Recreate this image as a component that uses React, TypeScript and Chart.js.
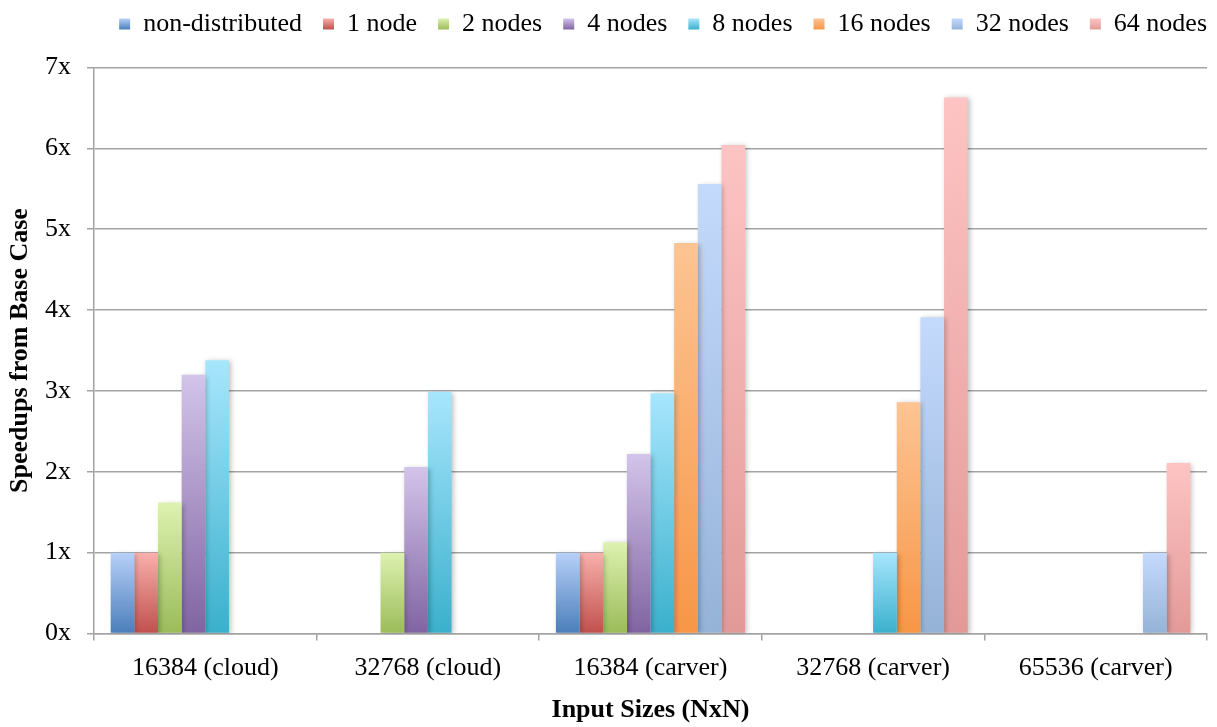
import React, { useEffect, useRef } from 'react';
import { Chart, registerables } from 'chart.js';

Chart.register(...registerables);

const categories = ['16384 (cloud)', '32768 (cloud)', '16384 (carver)', '32768 (carver)', '65536 (carver)'];
const seriesNames = ['non-distributed', '1 node', '2 nodes', '4 nodes', '8 nodes', '16 nodes', '32 nodes', '64 nodes'];

const nonDistributed = [1, null, 1, null, null];
const node1 = [1, null, 1, null, null];
const nodes2 = [1.62, 1, 1.13, null, null];
const nodes4 = [3.2, 2.06, 2.22, null, null];
const nodes8 = [3.38, 2.99, 2.97, 1, null];
const nodes16 = [null, null, 4.83, 2.86, null];
const nodes32 = [null, null, 5.56, 3.91, 1];
const nodes64 = [null, null, 6.04, 6.63, 2.11];

const seriesValues = [nonDistributed, node1, nodes2, nodes4, nodes8, nodes16, nodes32, nodes64];

const topColors = ['#b7d0f8', '#f9b0ac', '#ddf2b0', '#d3c4ea', '#a7e6fd', '#fdc493', '#c4dafd', '#fdc4c3'];
const bottomColors = ['#4a7ebb', '#c0504d', '#9bbb59', '#8064a2', '#3ab0cc', '#f79646', '#95b3d7', '#e29a98'];
const legendColors = ['#7fa6dc', '#dd807d', '#bcd785', '#a994c6', '#70cbe4', '#faad6c', '#adc7ea', '#efafad'];

const yMin = 0;
const yMax = 7;
const yStep = 1;
const yTitle = 'Speedups from Base Case';
const xTitle = 'Input Sizes (NxN)';

const FONT = "'Liberation Serif', 'Times New Roman', Times, serif";
const GRID = '#a3a3a3';

function barFill(i: number) {
  return (ctx: any) => {
    if (ctx.type !== 'data') return legendColors[i];
    const chart = ctx.chart;
    const ys = chart.scales?.y;
    const v = ctx.raw;
    if (!ys || v == null) return bottomColors[i];
    const yTop = ys.getPixelForValue(v);
    const yBase = ys.getPixelForValue(0);
    if (!isFinite(yTop) || !isFinite(yBase) || yTop === yBase) return bottomColors[i];
    const g = chart.ctx.createLinearGradient(0, yTop, 0, yBase);
    g.addColorStop(0, topColors[i]);
    g.addColorStop(1, bottomColors[i]);
    return g;
  };
}

const shadowPlugin = {
  id: 'barShadow',
  beforeDatasetsDraw(chart: any) {
    const c = chart.ctx;
    c.save();
    c.shadowColor = 'rgba(0,0,0,0.25)';
    c.shadowBlur = 5;
    c.shadowOffsetX = 2;
    c.shadowOffsetY = 1;
  },
  afterDatasetsDraw(chart: any) {
    chart.ctx.restore();
  },
};

export default function App() {
  const ref = useRef<HTMLCanvasElement>(null);

  useEffect(() => {
    if (!ref.current) return;
    const chart = new Chart(ref.current, {
      type: 'bar',
      data: {
        labels: categories,
        datasets: seriesNames.map((name, i) => ({
          label: name,
          data: seriesValues[i],
          backgroundColor: barFill(i),
          borderWidth: 0,
          categoryPercentage: 0.85,
          barPercentage: 1,
        })),
      },
      plugins: [shadowPlugin],
      options: {
        animation: false,
        responsive: true,
        maintainAspectRatio: false,
        layout: { padding: { top: -10, left: 0, right: -11, bottom: 0 } },
        font: { family: FONT },
        plugins: {
          tooltip: { enabled: false },
          legend: {
            position: 'top',
            align: 'end',
            labels: {
              font: { family: FONT, size: 26 },
              color: '#000',
              boxWidth: 11,
              boxHeight: 11,
              padding: 21,
              generateLabels(chart: any) {
                const items = (Chart.defaults.plugins.legend.labels as any).generateLabels(chart);
                items.forEach((it: any, i: number) => {
                  const g = chart.ctx.createLinearGradient(0, 18.5, 0, 29.5);
                  g.addColorStop(0, topColors[i]);
                  g.addColorStop(1, bottomColors[i]);
                  it.fillStyle = g;
                  it.strokeStyle = 'rgba(0,0,0,0)';
                  it.lineWidth = 0;
                });
                return items;
              },
            },
          },
          subtitle: {
            display: true,
            text: '',
            weight: 500,
            padding: 0,
            font: { family: FONT, size: 20.5, lineHeight: 1 },
          } as any,
        },
        scales: {
          x: {
            offset: true,
            grid: {
              display: true,
              offset: true,
              drawOnChartArea: false,
              drawTicks: true,
              tickLength: 7,
              color: GRID,
              lineWidth: 1.5,
            },
            border: { display: true, color: GRID, width: 1.5 },
            ticks: {
              font: { family: FONT, size: 26 },
              color: '#000',
              padding: 12,
              maxRotation: 0,
              autoSkip: false,
            },
            title: {
              display: true,
              text: xTitle,
              font: { family: FONT, size: 26, weight: 'bold' },
              color: '#000',
              padding: { top: 0, bottom: 1 },
            },
            afterFit(scale: any) {
              scale.height = 93.5;
              scale.paddingRight = 10;
            },
          },
          y: {
            min: yMin,
            max: yMax,
            ticks: {
              stepSize: yStep,
              font: { family: FONT, size: 26 },
              color: '#000',
              padding: 16,
              callback: (v: any) => `${v}x`,
            },
            grid: {
              color: GRID,
              lineWidth: 1.5,
              drawTicks: true,
              tickLength: 7,
              tickColor: GRID,
            },
            border: { display: true, color: GRID, width: 1.5 },
            title: {
              display: true,
              text: yTitle,
              font: { family: FONT, size: 26, weight: 'bold' },
              color: '#000',
              padding: { top: 5, bottom: 0 },
            },
            afterFit(scale: any) {
              scale.width = 94;
            },
          },
        },
      } as any,
    });
    return () => chart.destroy();
  }, []);

  return (
    <div style={{ position: 'fixed', left: 0, top: 0, width: 1217, height: 727, background: '#fff' }}>
      <canvas ref={ref} />
    </div>
  );
}
